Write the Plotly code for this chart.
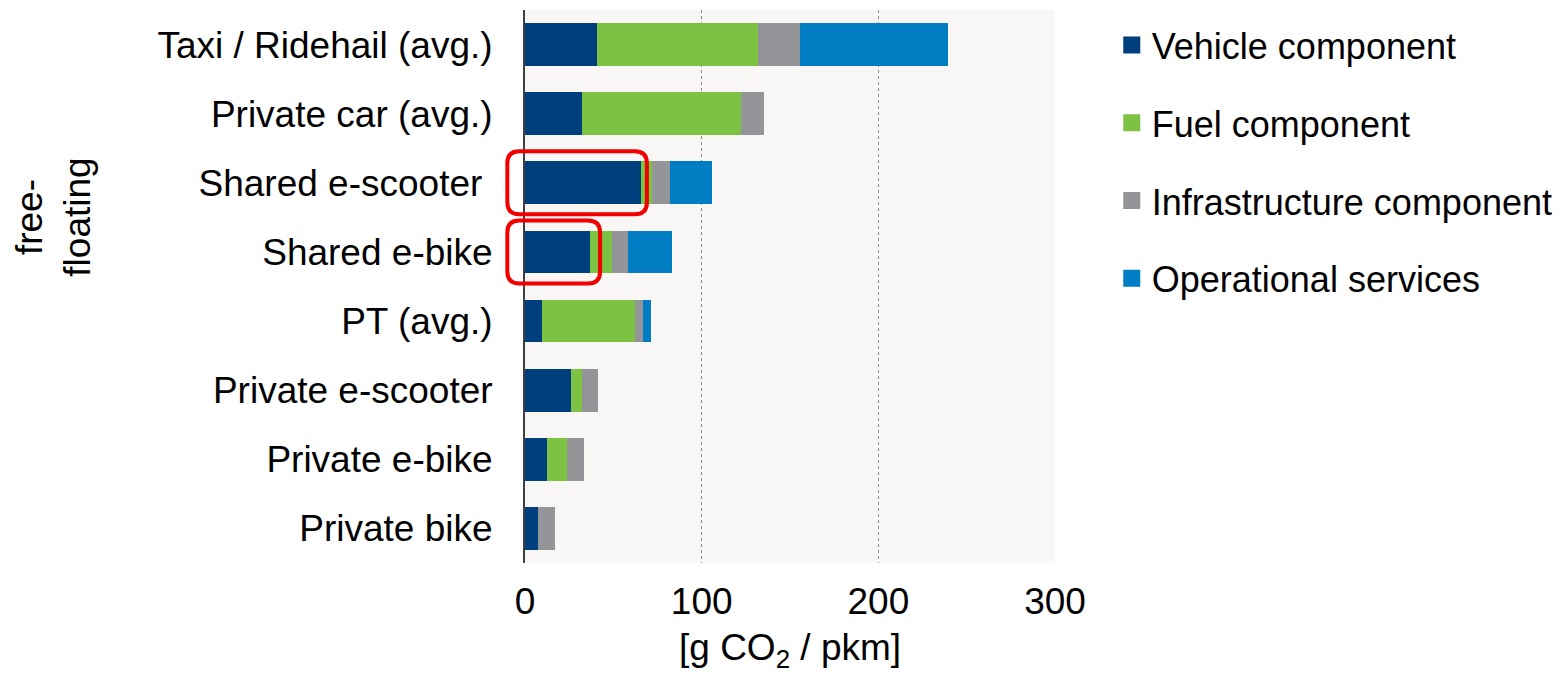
import plotly.graph_objects as go

# data
categories = ["Taxi / Ridehail (avg.)", "Private car (avg.)", "Shared e-scooter&nbsp;",
              "Shared e-bike", "PT (avg.)", "Private e-scooter", "Private e-bike", "Private bike"]
vehicle = [41, 32, 65.5, 37, 9.5, 26, 12.5, 7.5]
fuel = [91, 90.5, 6.5, 12, 52.5, 6, 11.5, 0]
infra = [23.5, 12.5, 10, 9.5, 5, 9.5, 9.5, 9.5]
ops = [84, 0, 24, 24.5, 4.5, 0, 0, 0]

series_names = ["Vehicle component", "Fuel component", "Infrastructure component", "Operational services"]
series_vals = [vehicle, fuel, infra, ops]
series_colors = ["#003F7D", "#7DC242", "#939598", "#007DC3"]

x_ticks = [0, 100, 200, 300]
X_RANGE = [0, 300]
x_title = "[g CO<sub>2</sub> / pkm]"

# highlighted boxes: (category index, x start, x end) in data units
highlights = [(2, -10, 69), (3, -10, 42.5)]

FONT = "Liberation Sans, Arial, sans-serif"
FS = 37
# the page puts the figure 8px in from the top-left corner
W, H = 1559, 666
M = dict(l=517, r=512, t=2, b=111)
pos = list(range(len(categories)))
Y_RANGE = [len(categories) - 0.5, -0.5]

fig = go.Figure()
for name, vals, col in zip(series_names, series_vals, series_colors):
    fig.add_trace(go.Bar(
        y=pos, x=vals, name=name, orientation="h",
        marker=dict(color=col, line=dict(width=0)),
        legendgroup=name, showlegend=False, hoverinfo="skip",
    ))
    # legend-only entry, outlined so the key square is a bit larger
    fig.add_trace(go.Bar(
        y=[None], x=[None], name=name, orientation="h",
        marker=dict(color=col, line=dict(width=5, color=col)),
        legendgroup=name, showlegend=True, hoverinfo="skip",
    ))


# red boxes drawn in paper units (so they are not clipped at the axis)
def to_px(v):
    return (v - X_RANGE[0]) / (X_RANGE[1] - X_RANGE[0])


def to_py(v):
    return (Y_RANGE[0] - v) / (Y_RANGE[0] - Y_RANGE[1])


plot_w = W - M["l"] - M["r"]
plot_h = H - M["t"] - M["b"]
rx, ry = 12 / plot_w, 12 / plot_h


def rounded_path(x0, x1, y0, y1):
    return (f"M{x0 + rx},{y0} L{x1 - rx},{y0} Q{x1},{y0} {x1},{y0 + ry} "
            f"L{x1},{y1 - ry} Q{x1},{y1} {x1 - rx},{y1} "
            f"L{x0 + rx},{y1} Q{x0},{y1} {x0},{y1 - ry} "
            f"L{x0},{y0 + ry} Q{x0},{y0} {x0 + rx},{y0} Z")


shapes = []
for idx, xs, xe in highlights:
    shapes.append(dict(
        type="path", xref="paper", yref="paper",
        path=rounded_path(to_px(xs), to_px(xe), to_py(idx + 0.455), to_py(idx - 0.455)),
        line=dict(color="#F00000", width=4), layer="above",
    ))

fig.update_layout(
    width=W, height=H, margin=M,
    barmode="stack", bargap=0.38,
    plot_bgcolor="#F8F7F5", paper_bgcolor="white",
    font=dict(family=FONT, size=FS, color="black"),
    shapes=shapes,
    legend=dict(
        xref="container", yref="container",
        x=0.708, y=0.9895, xanchor="left", yanchor="top",
        traceorder="grouped", tracegroupgap=28,
        font=dict(family=FONT, size=36, color="black"),
        itemwidth=30, bgcolor="rgba(0,0,0,0)",
    ),
    annotations=[
        dict(text="free-<br>floating", xref="paper", yref="y",
             x=-0.89, y=2.5, xanchor="center", yanchor="middle",
             showarrow=False, textangle=-90,
             font=dict(family=FONT, size=FS, color="black")),
        dict(text=x_title, xref="paper", yref="paper",
             x=0.5, y=-0.158, xanchor="center", yanchor="middle",
             showarrow=False, font=dict(family=FONT, size=FS, color="black")),
    ],
)

fig.update_xaxes(
    range=X_RANGE, tickvals=x_ticks, showgrid=True,
    gridcolor="#8c8c8c", griddash="dot", gridwidth=1,
    zeroline=False, showline=False, ticks="", ticklabelstandoff=13,
    automargin=False,
)
fig.update_yaxes(
    tickvals=pos, ticktext=categories, range=Y_RANGE,
    showgrid=False, zeroline=False,
    showline=True, linecolor="#404040", linewidth=2,
    ticks="", ticklabelstandoff=23, automargin=False,
)

fig.write_html("out.html")
